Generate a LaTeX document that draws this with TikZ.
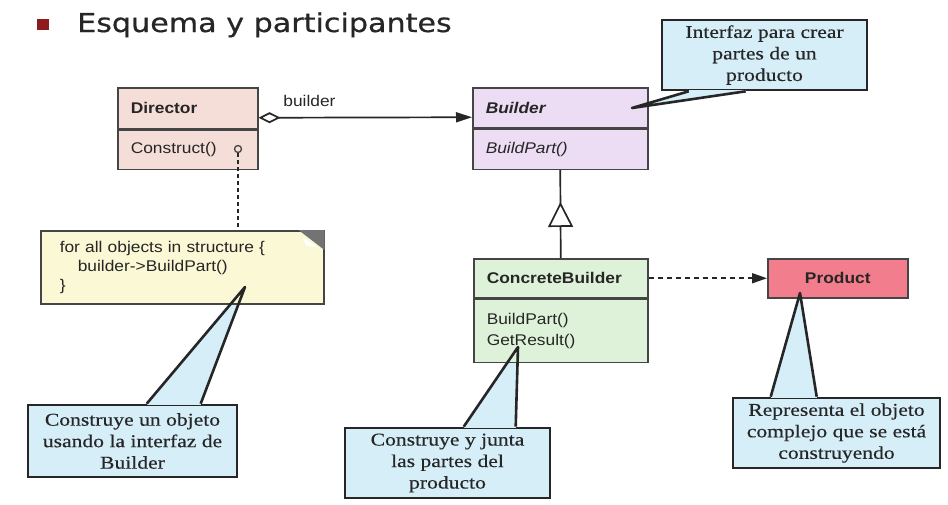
\documentclass[tikz,border=0pt]{standalone}
\usepackage{fontspec}
\usetikzlibrary{positioning,arrows.meta,decorations.markings,backgrounds}
\setmainfont{Liberation Serif}
\newfontfamily\umlfont[FakeStretch=1.12]{Liberation Sans}
\newfontfamily\notefont[FakeStretch=1.2,FakeBold=0.4]{Liberation Serif}
\newfontfamily\titlefont[FakeStretch=1.16,FakeBold=0.6]{DejaVu Sans}

\definecolor{dirfill}{HTML}{F5DDD8}
\definecolor{bldfill}{HTML}{ECDDF4}
\definecolor{cbfill}{HTML}{DEF2DA}
\definecolor{prodfill}{HTML}{F27D8C}
\definecolor{notefill}{HTML}{FAF8D5}
\definecolor{callfill}{HTML}{D5EEF8}
\definecolor{umlline}{HTML}{454545}
\definecolor{inkgray}{HTML}{262626}
\definecolor{bulletred}{HTML}{8E1B1B}

\begin{document}
\begin{tikzpicture}[
     x=1pt, y=-1pt,
     % define styles
     classpart/.style={
         draw=umlline, line width=1.5pt,
         anchor=north west, align=left,
         inner xsep=13pt, inner ysep=0pt,
         font=\umlfont\fontsize{15.5}{21}\selectfont,
         text=inkgray
     },
     callout/.style={
         draw=black!85, line width=2.6pt, fill=callfill,
         inner sep=0pt, align=center,
         font=\notefont\fontsize{18}{21.5}\selectfont,
         text=inkgray
     },
     pointer/.style={draw=black!85, line width=2.6pt, line join=round},
     agg/.style={draw=inkgray, line width=1.7pt,
         arrows={Diamond[fill=white,length=22pt,width=11pt]-Triangle[length=16pt,width=10pt]}},
     gen/.style={draw=inkgray, line width=1.7pt, postaction={decorate},
         decoration={markings,
             mark=at position 0.637 with {\arrow{Triangle[fill=white,length=25pt,width=25pt]}}}},
     dep/.style={draw=inkgray, line width=1.7pt, dash pattern=on 5pt off 4pt,
         arrows={-Triangle[length=15pt,width=10pt]}},
     notelink/.style={draw=inkgray, line width=1.7pt, dash pattern=on 4pt off 3pt}
]
\useasboundingbox (0,0) rectangle (948,504);

% heading
\node[fill=bulletred, minimum width=12pt, minimum height=11pt, inner sep=0pt] (bullet) at (43,24) {};
\node[font=\titlefont\fontsize{26}{30}\selectfont, text=inkgray, anchor=base west, inner sep=0pt]
    (title) at (77,32) {Esquema y participantes};

% classes
\node[classpart, fill=dirfill, text width=114pt, minimum height=41pt] (dirhead) at (117,87) {\textbf{Director}};
\node[classpart, fill=dirfill, text width=114pt, minimum height=39pt] (dirbody) at (dirhead.south west) {Construct()};
\node[draw=umlline, line width=1.3pt, circle, inner sep=0pt, minimum size=7pt, fill=dirfill] (hook) at (238,149) {};

\node[classpart, fill=bldfill, text width=149pt, minimum height=40pt] (bldhead) at (472,87) {\textbf{\textit{Builder}}};
\node[classpart, fill=bldfill, text width=149pt, minimum height=40pt] (bldbody) at (bldhead.south west) {\textit{BuildPart()}};

\node[classpart, fill=cbfill, text width=148pt, minimum height=39pt] (cbhead) at (473,258) {\textbf{ConcreteBuilder}};
\node[classpart, fill=cbfill, text width=148pt, minimum height=63pt] (cbbody) at (cbhead.south west) {BuildPart()\\GetResult()};

\node[classpart, fill=prodfill, align=center, text width=114pt, minimum height=39pt] (product) at (767,258) {\textbf{Product}};

% note with folded corner
\node[draw=umlline, line width=1.5pt, fill=notefill, anchor=north west, text width=245pt,
      minimum height=73pt, inner xsep=19pt, inner ysep=0pt, align=left, text=inkgray,
      font=\umlfont\fontsize{15.5}{19}\selectfont] (note) at (40,230)
      {for all objects in structure \{\\\hspace*{18pt}builder->BuildPart()\\\}};
\fill[black!55] ([xshift=-26pt]note.north east) -- (note.north east) -- ([yshift=-20pt]note.north east) -- cycle;
\fill[white] ([xshift=-22pt,yshift=-7pt]note.north east) -- ([xshift=-18pt,yshift=-16pt]note.north east)
    -- ([xshift=-7pt,yshift=-17pt]note.north east) -- cycle;

% relations
\draw[agg] ([yshift=-9.5pt]dirhead.east) --
    node[pos=0, anchor=south west, xshift=23pt, yshift=9pt, inner sep=1pt, text=inkgray,
         font=\umlfont\fontsize{15.5}{19}\selectfont] (rolename) {builder}
    ([yshift=-9.5pt]bldhead.west);
\draw[gen] (cbhead.north) -- (bldbody.south);
\draw[dep] (cbhead.east) -- (product.west);
\draw[notelink] (hook.south) -- (hook.south |- note.north);

% callouts
\node[callout, minimum width=205pt, minimum height=70pt] (cbldr) at (764.5,55) {Interfaz para crear\\partes de un\\producto};
\node[callout, minimum width=209pt, minimum height=72pt] (cdir) at (132.5,441) {Construye un objeto\\usando la interfaz de\\Builder};
\node[callout, minimum width=205pt, minimum height=70pt] (ccb) at (447.5,463) {Construye y junta\\las partes del\\producto};
\node[callout, minimum width=207pt, minimum height=70pt] (cprod) at (836.5,433) {Representa el objeto\\complejo que se está\\construyendo};

\coordinate (tipbld) at (632,108);
\coordinate (tipnote) at (245,287);
\coordinate (tipcb) at (518,347);
\coordinate (tipprod) at (800,293);

% pointer bodies go behind the classes
\begin{scope}[on background layer]
\fill[white] (0,0) rectangle (948,504);
\fill[callfill] ([xshift=28pt]cbldr.south west) -- (tipbld) -- ([xshift=85pt]cbldr.south west) -- cycle;
\foreach \c/\a/\b/\t in {cdir/120/174/tipnote, ccb/120/172/tipcb, cprod/39/85/tipprod}
    \fill[callfill] ([xshift=\a pt]\c.north west) -- (\t) -- ([xshift=\b pt]\c.north west) -- cycle;
\end{scope}

% open the callout border under each pointer
\fill[callfill] ([xshift=28pt,yshift=1.6pt]cbldr.south west) rectangle ([xshift=85pt,yshift=-1.6pt]cbldr.south west);
\draw[pointer] ([xshift=28pt]cbldr.south west) -- (tipbld) -- ([xshift=85pt]cbldr.south west);
\foreach \c/\a/\b/\t in {cdir/120/174/tipnote, ccb/120/172/tipcb, cprod/39/85/tipprod}{
    \fill[callfill] ([xshift=\a pt,yshift=1.6pt]\c.north west) rectangle ([xshift=\b pt,yshift=-1.6pt]\c.north west);
    \draw[pointer] ([xshift=\a pt]\c.north west) -- (\t) -- ([xshift=\b pt]\c.north west);
}
\end{tikzpicture}
\end{document}
